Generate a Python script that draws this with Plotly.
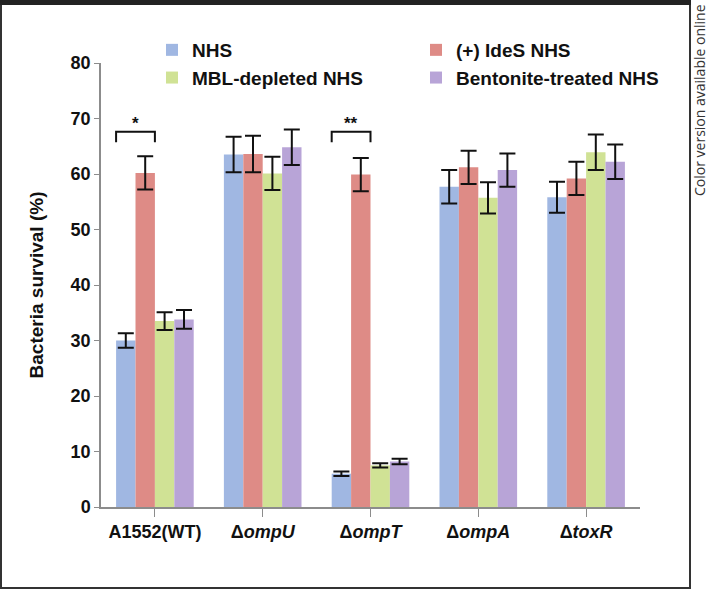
import plotly.graph_objects as go

# data
strain_labels = ['A1552(WT)', 'Δ<i>ompU</i>', 'Δ<i>ompT</i>', 'Δ<i>ompA</i>', 'Δ<i>toxR</i>']
series_names = ['NHS', '(+) IdeS NHS', 'MBL-depleted NHS', 'Bentonite-treated NHS']

nhs = [30.0, 63.5, 6.0, 57.7, 55.8]
nhs_err = [1.3, 3.2, 0.4, 3.0, 2.8]
ides = [60.2, 63.6, 59.9, 61.2, 59.2]
ides_err = [3.0, 3.3, 3.0, 3.0, 3.0]
mbl = [33.5, 60.1, 7.5, 55.7, 63.9]
mbl_err = [1.6, 3.0, 0.4, 2.8, 3.2]
bent = [33.8, 64.8, 8.2, 60.7, 62.2]
bent_err = [1.7, 3.2, 0.5, 3.0, 3.1]

colors = ['#a0b7e2', '#de8b86', '#d0e295', '#b8a4d7']

# significance: (category index, label)
sig_idx = [0, 2]
sig_text = ['*', '**']

values = [nhs, ides, mbl, bent]
errors = [nhs_err, ides_err, mbl_err, bent_err]

BOLD = 'Liberation Sans'
bargap = 0.28
bw = (1 - bargap) / 4

fig = go.Figure()
xs = list(range(len(strain_labels)))
for name, v, e, c in zip(series_names, values, errors, colors):
    fig.add_trace(go.Bar(
        x=xs, y=v, name='<b>' + name + '</b>', marker=dict(color=c, line=dict(width=0)),
        error_y=dict(type='data', array=e, color='#111111', thickness=2, width=8),
    ))

# significance brackets
for i, t in zip(sig_idx, sig_text):
    x0 = i - 2 * bw
    x1 = i
    fig.add_shape(type='path', xref='x', yref='y',
                  path=f'M {x0},65.7 L {x0},67.6 L {x1},67.6 L {x1},65.7',
                  line=dict(color='#111111', width=2))
    fig.add_annotation(x=(x0 + x1) / 2, y=67.6, text=f'<b>{t}</b>', showarrow=False,
                       yanchor='bottom', yshift=-3, font=dict(family=BOLD, size=17, color='#111111'))

fig.update_layout(
    width=708, height=591,
    margin=dict(l=101, r=68, t=63, b=84, autoexpand=False),
    paper_bgcolor='white', plot_bgcolor='white',
    barmode='group', bargap=bargap, bargroupgap=0,
    font=dict(family=BOLD, size=16, color='#111111'),
    showlegend=True,
    legend=dict(orientation='h', x=(152 - 101) / 539, y=1 - 31 / 591, yref='container',
                xanchor='left', yanchor='top',
                entrywidth=219, entrywidthmode='pixels', traceorder='normal',
                font=dict(family=BOLD, size=19, color='#111111'),
                bgcolor='rgba(0,0,0,0)', tracegroupgap=0, itemclick=False),
    xaxis=dict(tickvals=xs, ticktext=['<b>' + s + '</b>' for s in strain_labels],
               range=[-0.5, 4.5], showline=True, linecolor='#8c8c8c', linewidth=1.5,
               ticks='outside', ticklen=8, tickcolor='#8c8c8c', tickson='boundaries',
               showgrid=False, zeroline=False, tickfont=dict(family=BOLD, size=18)),
    yaxis=dict(range=[0, 80], dtick=10, showline=True, linecolor='#8c8c8c', linewidth=1.5,
               ticks='outside', ticklen=5, tickcolor='#8c8c8c', showgrid=False,
               zeroline=False, tickprefix='<b>', ticksuffix='</b>',
               tickfont=dict(family=BOLD, size=18),
               title=dict(text='<b>Bacteria survival (%)</b>', font=dict(family=BOLD, size=19),
                          standoff=22)),
)

# outer border: thick top line, thinner sides and bottom
fig.add_shape(type='rect', xref='paper', yref='paper', x0=-100/539, x1=589/539,
              y0=-81/444, y1=503/444, line=dict(color='#333333', width=2),
              fillcolor='rgba(0,0,0,0)', layer='above')
fig.add_shape(type='rect', xref='paper', yref='paper', x0=-101/539, x1=590/539,
              y0=502/444, y1=507/444, line=dict(width=0),
              fillcolor='#222222', layer='above')

fig.add_annotation(text='Color version available online', xref='paper', yref='paper',
                   x=599/539, y=505/444, xanchor='center', yanchor='top',
                   textangle=-90, showarrow=False,
                   font=dict(family='Open Sans', size=14, color='#333333'))

fig.write_html('out.html', config={'displayModeBar': False},
               post_script="document.body.style.margin='0px';document.body.style.overflow='hidden';")
